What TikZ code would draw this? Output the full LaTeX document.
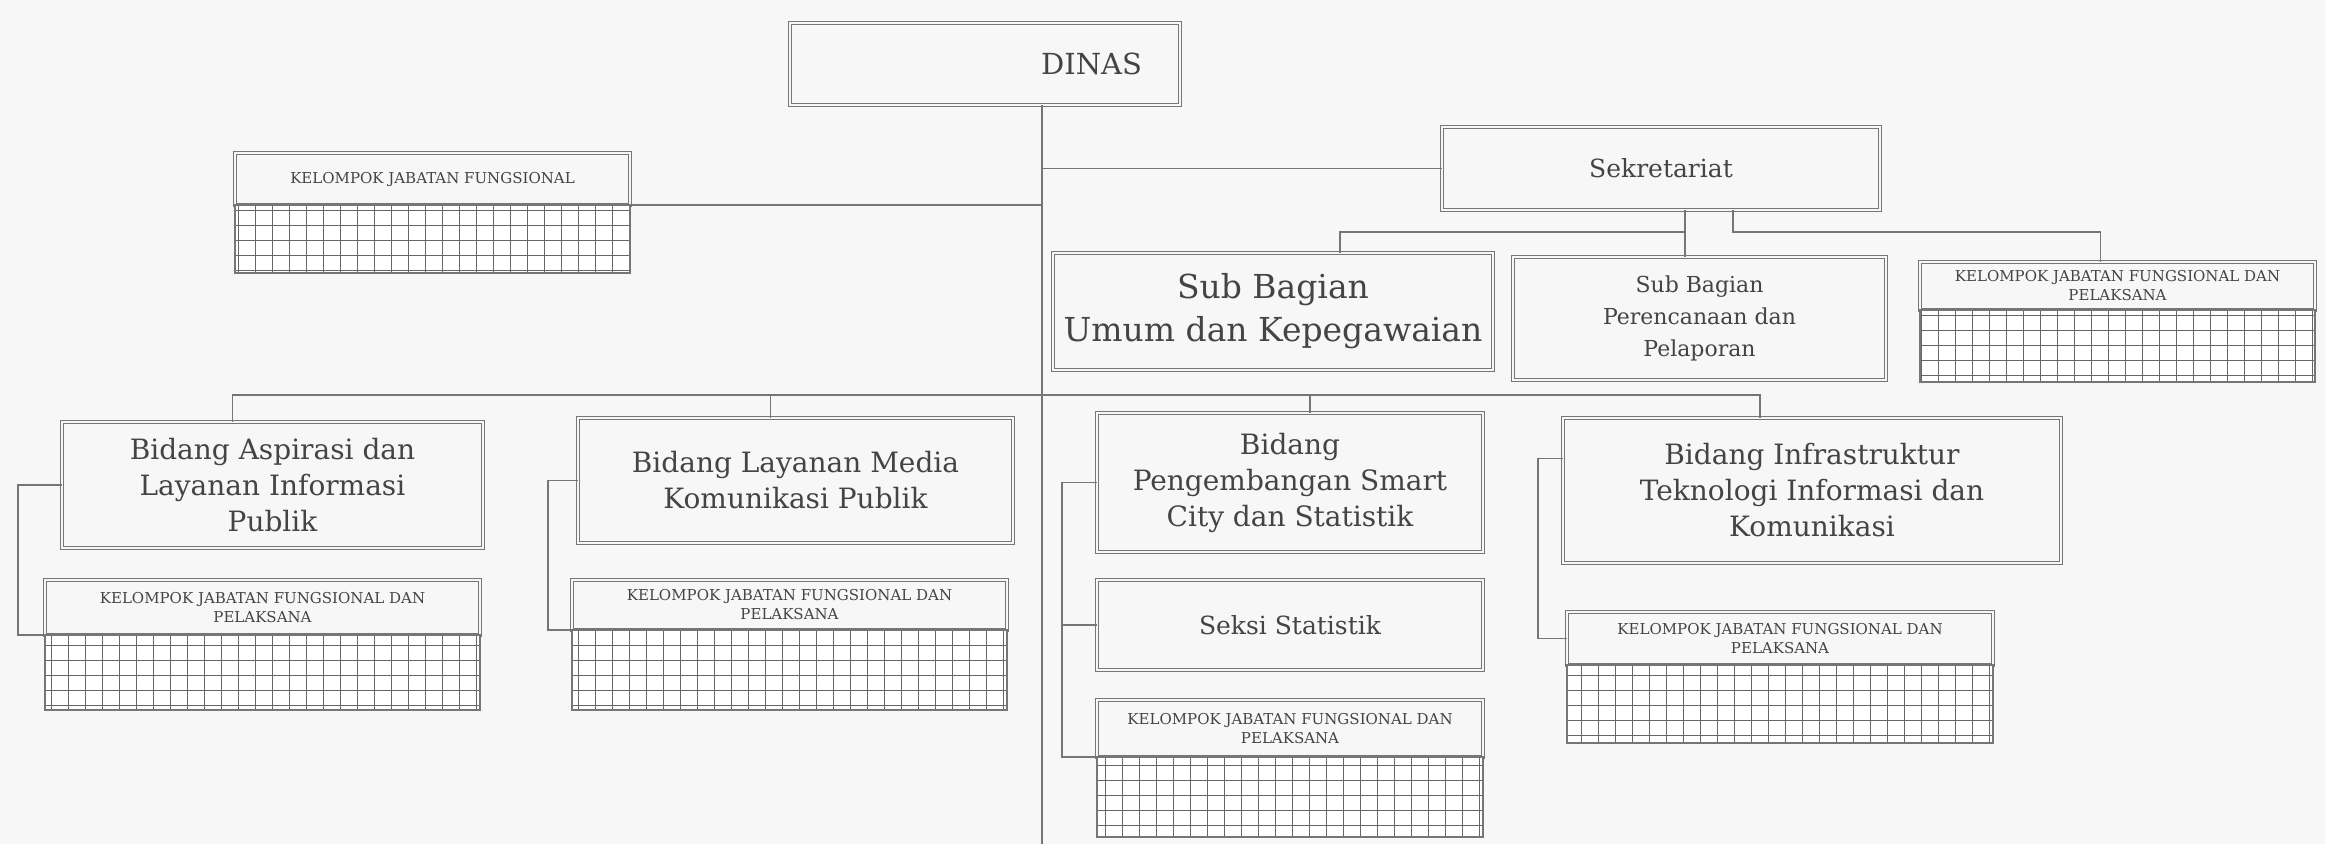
\documentclass[tikz,border=0pt]{standalone}
\usepackage{fontspec}
\setmainfont{DejaVu Serif}
\usetikzlibrary{positioning,calc}
\definecolor{PaperGray}{HTML}{F7F7F7}
\definecolor{LineGray}{HTML}{767676}
\definecolor{InkGray}{HTML}{444444}

\newcommand{\kjfgrid}[1]{%
  \begin{scope}
    \clip (#1.south west) rectangle (#1.north east);
    \draw[gridline, xstep=17pt, ystep=15pt] (#1.south west) grid (#1.north east);
  \end{scope}
  \draw[kjfbody, fill=none] (#1.south west) rectangle (#1.north east)}

\begin{document}
\begin{tikzpicture}[
	x=1pt, y=-1pt,
	unit/.style={draw=LineGray, double=PaperGray, double distance=1.6pt, line width=0.9pt,
		fill=PaperGray, align=center, text=InkGray, inner sep=2pt, outer sep=0pt},
	kjfhead/.style={unit, font=\fontsize{15}{19}\selectfont},
	kjfbody/.style={draw=LineGray, line width=1.4pt, fill=white, inner sep=0pt, outer sep=0pt},
	gridline/.style={draw=black!60, line width=1pt},
	link/.style={draw=LineGray, line width=1.6pt},
	txtL/.style={font=\fontsize{33}{43}\selectfont},
	txtM/.style={font=\fontsize{28}{36}\selectfont},
	txtN/.style={font=\fontsize{25}{32}\selectfont},
	txtS/.style={font=\fontsize{22}{32}\selectfont}
]
	\fill[PaperGray] (0,0) rectangle (2325,844);
	\useasboundingbox (0,0) rectangle (2325,844);

	% head and secretariat
	\node[unit, font=\fontsize{29}{34}\selectfont, minimum width=390pt, minimum height=82pt,
		text width=314pt, align=right] (dinas) at (985,64) {DINAS};
	\node[kjfhead, minimum width=395pt, minimum height=52pt] (kjfTopH) at (432.5,179) {KELOMPOK JABATAN FUNGSIONAL};
	\node[kjfbody, minimum width=395pt, minimum height=68pt, below=0pt of kjfTopH] (kjfTopG) {};

	\node[unit, txtN, minimum width=438pt, minimum height=83pt] (sekre) at (1661,168.5) {Sekretariat};
	\node[unit, txtL, minimum width=440pt, minimum height=117pt] (subUmum) at (1273,311.5) {Sub Bagian\\Umum dan Kepegawaian};
	\node[unit, txtS, minimum width=373pt, minimum height=123pt] (subRenc) at (1699.5,318.5) {Sub Bagian\\Perencanaan dan\\Pelaporan};
	\node[kjfhead, minimum width=395pt, minimum height=48pt] (kjfSekH) at (2117.5,286) {KELOMPOK JABATAN FUNGSIONAL DAN\\PELAKSANA};
	\node[kjfbody, minimum width=395pt, minimum height=72pt, below=0pt of kjfSekH] (kjfSekG) {};

	% fields
	\node[unit, txtM, minimum width=421pt, minimum height=126pt] (bAspirasi) at (272.5,485) {Bidang Aspirasi dan\\Layanan Informasi\\Publik};
	\node[kjfhead, minimum width=435pt, minimum height=55pt, below=32pt of bAspirasi, xshift=-10pt] (kjfAspH) {KELOMPOK JABATAN FUNGSIONAL DAN\\PELAKSANA};
	\node[kjfbody, minimum width=435pt, minimum height=75pt, below=0pt of kjfAspH] (kjfAspG) {};

	\node[unit, txtM, minimum width=435pt, minimum height=125pt] (bMedia) at (795.5,480.5) {Bidang Layanan Media\\Komunikasi Publik};
	\node[kjfhead, minimum width=435pt, minimum height=50pt, below=37pt of bMedia, xshift=-6pt] (kjfMediaH) {KELOMPOK JABATAN FUNGSIONAL DAN\\PELAKSANA};
	\node[kjfbody, minimum width=435pt, minimum height=80pt, below=0pt of kjfMediaH] (kjfMediaG) {};

	\node[unit, txtM, minimum width=386pt, minimum height=139pt] (bSmart) at (1290,482.5) {Bidang\\Pengembangan Smart\\City dan Statistik};
	\node[unit, txtN, minimum width=386pt, minimum height=90pt, below=28pt of bSmart] (seksiStat) {Seksi Statistik};
	\node[kjfhead, minimum width=386pt, minimum height=57pt, below=30pt of seksiStat] (kjfSmartH) {KELOMPOK JABATAN FUNGSIONAL DAN\\PELAKSANA};
	\node[kjfbody, minimum width=386pt, minimum height=80pt, below=0pt of kjfSmartH] (kjfSmartG) {};

	\node[unit, txtM, minimum width=498pt, minimum height=145pt] (bInfra) at (1812,490.5) {Bidang Infrastruktur\\Teknologi Informasi dan\\Komunikasi};
	\node[kjfhead, minimum width=426pt, minimum height=53pt, below=49pt of bInfra, xshift=-32pt] (kjfInfraH) {KELOMPOK JABATAN FUNGSIONAL DAN\\PELAKSANA};
	\node[kjfbody, minimum width=426pt, minimum height=78pt, below=0pt of kjfInfraH] (kjfInfraG) {};

	\foreach \g in {kjfTopG, kjfSekG, kjfAspG, kjfMediaG, kjfSmartG, kjfInfraG}
		{\kjfgrid{\g};}

	% trunk and branches
	\coordinate (trunkEnd) at (1042,844);
	\coordinate (bidBus) at (1042,395);
	\draw[link] (dinas.south -| trunkEnd) -- (trunkEnd);
	\draw[link] (kjfTopG.north east) -- (kjfTopG.north east -| trunkEnd);
	\draw[link] (sekre.west -| trunkEnd) -- (sekre.west);

	\draw[link] ([xshift=24pt]sekre.south) -- ([xshift=24pt]sekre.south |- subRenc.north);
	\draw[link] ([xshift=24pt]sekre.south) ++(0,22) -| ([xshift=67pt]subUmum.north);
	\draw[link] ([xshift=72pt]sekre.south) -- ++(0,22) -| ([xshift=-17pt]kjfSekH.north);

	\draw[link] (bidBus) -| ([xshift=-40pt]bAspirasi.north);
	\draw[link] (bidBus) -| ([xshift=-25pt]bMedia.north);
	\draw[link] (bidBus) -| ([xshift=20pt]bSmart.north);
	\draw[link] (bidBus) -| ([xshift=-52pt]bInfra.north);

	\draw[link] (bAspirasi.west) -- ++(-44,0) |- (kjfAspG.north west);
	\draw[link] (bMedia.west) -- ++(-30,0) |- (kjfMediaG.north west);
	\draw[link] (bSmart.west) -- ++(-35,0) |- (kjfSmartG.north west);
	\draw[link] (seksiStat.west) -- ++(-35,0);
	\draw[link] ([yshift=32pt]bInfra.west) -- ++(-25,0) |- (kjfInfraH.west);
\end{tikzpicture}
\end{document}
